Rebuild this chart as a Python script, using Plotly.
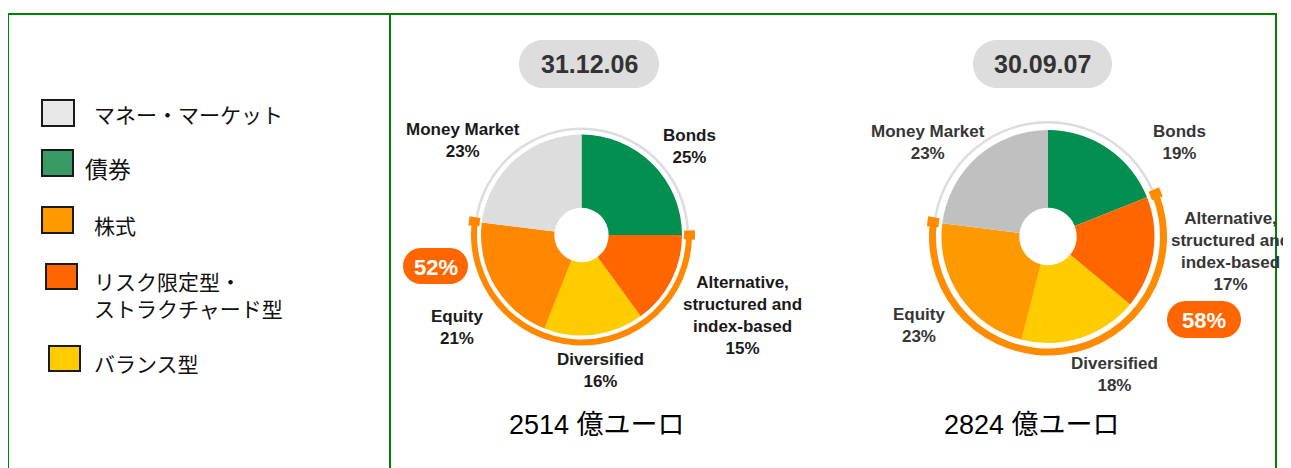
import plotly.graph_objects as go

# ---------------- data ----------------
categories = ["Bonds", "Alternative, structured and index-based", "Diversified", "Equity", "Money Market"]
label_text = ["Bonds", "Alternative,<br>structured and<br>index-based", "Diversified", "Equity", "Money Market"]
values_2006 = [25, 15, 16, 21, 23]
values_2007 = [19, 17, 18, 23, 23]
dates = ["31.12.06", "30.09.07"]
totals = ["2514 億ユーロ", "2824 億ユーロ"]
highlight_2006 = "52%"
highlight_2007 = "58%"
legend_labels = ["マネー・マーケット", "債券", "株式", "リスク限定型・<br>ストラクチャード型", "バランス型"]

# ---------------- styles ----------------
W, H = 1291, 468
OFF = 8  # page body margin: figure origin sits at (8, 8) in the window
colors_2006 = ["#038F50", "#FF6600", "#FFCC00", "#FF8800", "#DDDDDD"]
colors_2007 = ["#038F50", "#FF6600", "#FFCC00", "#FF9900", "#C0C0C0"]
legend_colors = ["#E8E8E8", "#3A9A66", "#FF9900", "#FF6600", "#FFCC00"]
TRANSP = "rgba(0,0,0,0)"
FONT_LAT = "Liberation Sans, Arial, sans-serif"
FONT_JP = "Noto Sans CJK JP, sans-serif"
FONT_MIX = "Liberation Sans, Arial, Noto Sans CJK JP, sans-serif"


def px(x):
    return (x - OFF) / W


def py(y):
    return 1 - (y - OFF) / H


def domain(cx, cy, r):
    return dict(x=[px(cx - r), px(cx + r)], y=[py(cy + r), py(cy - r)])


def rounded_rect(x0, y0, x1, y1, r):
    k = 0.5523 * r

    def P(x, y):
        return f"{px(x):.6f},{py(y):.6f}"
    s = f"M{P(x0 + r, y0)} L{P(x1 - r, y0)} "
    s += f"C{P(x1 - r + k, y0)} {P(x1, y0 + r - k)} {P(x1, y0 + r)} "
    s += f"L{P(x1, y1 - r)} "
    s += f"C{P(x1, y1 - r + k)} {P(x1 - r + k, y1)} {P(x1 - r, y1)} "
    s += f"L{P(x0 + r, y1)} "
    s += f"C{P(x0 + r - k, y1)} {P(x0, y1 - r + k)} {P(x0, y1 - r)} "
    s += f"L{P(x0, y0 + r)} "
    s += f"C{P(x0, y0 + r - k)} {P(x0 + r - k, y0)} {P(x0 + r, y0)} Z"
    return s


fig = go.Figure()

pies = [
    dict(vals=values_2006, cols=colors_2006, cx=581.5, cy=235, r=100.5,
         gray=(105, 107.5), orange=(104.5, 110.5), cap=(102.5, 113.5), ocol="#FF8800"),
    dict(vals=values_2007, cols=colors_2007, cx=1048, cy=236.5, r=106.5,
         gray=(113, 115.5), orange=(112, 119), cap=(110, 121.5), ocol="#FF8C00"),
]

for p in pies:
    v = p["vals"]
    span = v[1] + v[2] + v[3]
    # thin gray outer ring
    gi, go_ = p["gray"]
    fig.add_trace(go.Pie(values=[1], marker=dict(colors=["#DDDDDD"], line=dict(width=0)),
                         hole=gi / go_, domain=domain(p["cx"], p["cy"], go_), sort=False,
                         textinfo="none", hoverinfo="skip", showlegend=False))
    # orange highlight arc (alternative + diversified + equity)
    oi, oo = p["orange"]
    fig.add_trace(go.Pie(values=[v[0], span, v[4]],
                         marker=dict(colors=[TRANSP, p["ocol"], TRANSP], line=dict(width=0)),
                         hole=oi / oo, domain=domain(p["cx"], p["cy"], oo), sort=False,
                         direction="clockwise", rotation=0,
                         textinfo="none", hoverinfo="skip", showlegend=False))
    # end caps of arc
    ci, co = p["cap"]
    c = 1.3
    fig.add_trace(go.Pie(values=[v[0] - c / 2, c, span - c, c, v[4] - c / 2],
                         marker=dict(colors=[TRANSP, p["ocol"], TRANSP, p["ocol"], TRANSP], line=dict(width=0)),
                         hole=ci / co, domain=domain(p["cx"], p["cy"], co), sort=False,
                         direction="clockwise", rotation=0,
                         textinfo="none", hoverinfo="skip", showlegend=False))
    # main pie
    fig.add_trace(go.Pie(labels=categories, values=v,
                         marker=dict(colors=p["cols"], line=dict(width=0)),
                         hole=0.27, domain=domain(p["cx"], p["cy"], p["r"]), sort=False,
                         direction="clockwise", rotation=0,
                         textinfo="none", hoverinfo="skip", showlegend=False))

shapes = []
annotations = []

# frame
shapes.append(dict(type="rect", xref="paper", yref="paper", x0=px(8), x1=px(1276), y0=py(500), y1=py(14),
                   line=dict(color="#008000", width=2), fillcolor=TRANSP, layer="below"))
shapes.append(dict(type="line", xref="paper", yref="paper", x0=px(390), x1=px(390), y0=py(500), y1=py(14),
                   line=dict(color="#008000", width=2)))

# date pills
for (x0, x1), d in zip([(519, 659), (973, 1112)], dates):
    shapes.append(dict(type="path", xref="paper", yref="paper", path=rounded_rect(x0, 40, x1, 88, 24),
                       fillcolor="#DDDDDD", line=dict(width=0)))
    annotations.append(dict(x=px((x0 + x1) / 2), y=py(64), xref="paper", yref="paper", text=f"<b>{d}</b>",
                            showarrow=False, font=dict(family=FONT_LAT, size=25, color="#333333"),
                            xanchor="center", yanchor="middle"))

# badges
for (x0, y0, x1, y1), t in zip([(403, 248, 468, 284), (1167, 301, 1241, 338)], [highlight_2006, highlight_2007]):
    shapes.append(dict(type="path", xref="paper", yref="paper", path=rounded_rect(x0, y0, x1, y1, (y1 - y0) / 2),
                       fillcolor="#FF6600", line=dict(width=0)))
    annotations.append(dict(x=px((x0 + x1) / 2), y=py((y0 + y1) / 2 + 1), xref="paper", yref="paper",
                            text=f"<b>{t}</b>", showarrow=False,
                            font=dict(family=FONT_LAT, size=22, color="white"),
                            xanchor="center", yanchor="middle"))

# slice labels
label_pos = [
    # Bonds, Alt, Div, Equity, MM
    [(689, 146), (742.5, 315), (600.7, 370), (457, 327), (463, 140)],
    [(1179.5, 142), (1230, 251), (1114.7, 374.5), (919, 325.5), (927.7, 142)],
]
label_colors = ["#1a1a1a", "#363636"]
for vals, pos, lc in zip([values_2006, values_2007], label_pos, label_colors):
    for name, val, (x, y) in zip(label_text, vals, pos):
        annotations.append(dict(x=px(x), y=py(y), xref="paper", yref="paper",
                                text=f"<b>{name}<br>{val}%</b>", showarrow=False,
                                font=dict(family=FONT_LAT, size=17, color=lc),
                                xanchor="center", yanchor="middle", align="center"))

# totals
for x, t in zip([596.5, 1032], totals):
    annotations.append(dict(x=px(x), y=py(425), xref="paper", yref="paper", text=t, showarrow=False,
                            font=dict(family=FONT_MIX, size=27, color="#000000"),
                            xanchor="center", yanchor="middle"))

# legend
legend_boxes = [(42, 100, 74, 126), (42, 150, 73, 176), (42, 207, 73, 233), (46, 264, 77, 289), (49, 346, 80, 371)]
legend_text_pos = [(92, 114, 21), (83, 168, 23), (92, 225, 21), (92, 294, 21), (92, 363, 21)]
for (x0, y0, x1, y1), col, (tx, ty, fs), lab in zip(legend_boxes, legend_colors, legend_text_pos, legend_labels):
    shapes.append(dict(type="rect", xref="paper", yref="paper", x0=px(x0), x1=px(x1), y0=py(y1), y1=py(y0),
                       fillcolor=col, line=dict(color="#1a1a1a", width=2)))
    annotations.append(dict(x=px(tx), y=py(ty), xref="paper", yref="paper", text=lab, showarrow=False,
                            font=dict(family=FONT_JP, size=fs, color="#111111"),
                            xanchor="left", yanchor="middle", align="left"))

fig.update_layout(width=W, height=H, margin=dict(l=0, r=0, t=0, b=0),
                  paper_bgcolor="white", plot_bgcolor="white",
                  shapes=shapes, annotations=annotations, showlegend=False)

fig.write_html("out.html")
